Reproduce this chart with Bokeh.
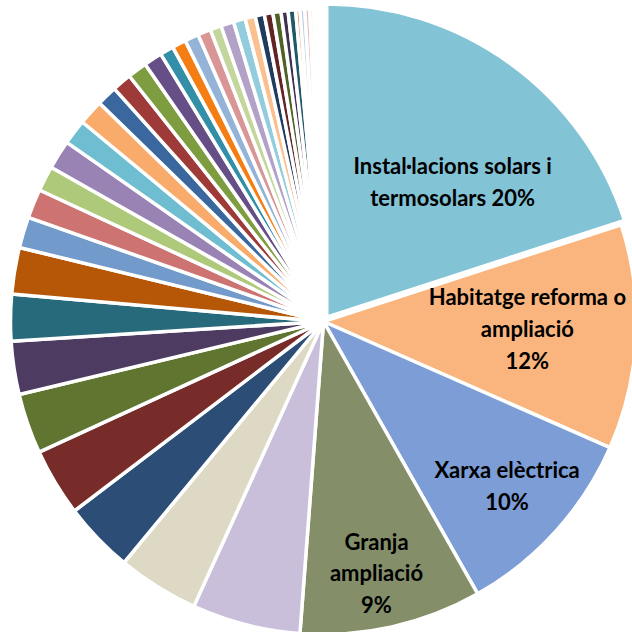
import math
from bokeh.plotting import figure
from bokeh.models import ColumnDataSource, Range1d
from bokeh.core.properties import value
from bokeh.embed import file_html
from bokeh.resources import INLINE

# ---- data (percent shares, clockwise from 12 o'clock) ----
shares = [20.0, 11.6, 10.2, 9.4, 5.6, 4.2, 3.65, 3.5, 3.1, 2.75, 2.4, 2.4,
          1.6, 1.5, 1.3, 1.5, 1.3, 1.3, 1.05, 1.0, 1.0, 0.95, 0.7, 0.72,
          0.72, 0.67, 0.58, 0.67, 0.61, 0.53, 0.47, 0.44, 0.42, 0.36, 0.39,
          0.22, 0.25, 0.25, 0.2, 0.15, 0.12, 0.1, 0.08, 0.05]

colors = ["#82C3D6", "#F9B57D", "#7C9DD5", "#848F6A", "#C9BFDB", "#DDD9C4",
          "#2C4D75", "#772C2A", "#5F7530", "#4D3B62", "#276A7C", "#B65708",
          "#729ACA", "#CD7371", "#AFC97A", "#9983B5", "#6FBDD1", "#F9AB6B",
          "#3A679E", "#9E3B38", "#7E9C40", "#664F86", "#338FA7", "#F47E13",
          "#95B3D7", "#D99694", "#C3D69B", "#B3A2C7", "#93CDDD", "#FAC090",
          "#1F3B5E", "#632523", "#4F6228", "#3F3151", "#215968", "#C77936",
          "#B9CDE5", "#E6B9B8", "#D7E4BD", "#CCC1DA", "#B7DDE8", "#FCD5B5",
          "#8EB4E3", "#FFB3B3"]

label_texts = ["Instal·lacions solars i\ntermosolars 20%",
               "Habitatge reforma o\nampliació\n12%",
               "Xarxa elèctrica\n10%",
               "Granja\nampliació\n9%"]

# ---- layout ----
W = H = 632
cx, cy = 323.0, 311.0       # pie centre in frame pixels (y up)
R = 313.0
explode = [5.5] + [0.0] * (len(shares) - 1)
label_r = [185.0, 204.0, 246.0, 257.0]
label_da = [-6.9, 0.9, 0.4, -0.7]   # degrees

total = float(sum(shares))
starts, ends, xs, ys = [], [], [], []
cum = 0.0
for s, e in zip(shares, explode):
    a0 = math.pi / 2 - 2 * math.pi * cum / total
    cum += s
    a1 = math.pi / 2 - 2 * math.pi * cum / total
    mid = (a0 + a1) / 2
    starts.append(a0)
    ends.append(a1)
    xs.append(cx + e * math.cos(mid))
    ys.append(cy + e * math.sin(mid))

src = ColumnDataSource(dict(x=xs, y=ys, start=starts, end=ends, color=colors[:len(shares)]))

p = figure(width=W, height=H, output_backend="svg", toolbar_location=None,
           x_range=Range1d(0, W), y_range=Range1d(0, H), min_border=0)
p.axis.visible = False
p.grid.visible = False
p.outline_line_color = None
p.background_fill_color = "white"
p.border_fill_color = "white"

p.wedge(x="x", y="y", radius=R, start_angle="start", end_angle="end",
        direction="clock", fill_color="color", line_color="white",
        line_width=3.5, source=src)

lx, ly = [], []
for i, t in enumerate(label_texts):
    mid = (starts[i] + ends[i]) / 2 + math.radians(label_da[i])
    lx.append(xs[i] + label_r[i] * math.cos(mid))
    ly.append(ys[i] + label_r[i] * math.sin(mid))

p.text(x=lx, y=ly, text=label_texts, text_font=value("Lato"),
       text_font_style="bold", text_font_size="22px", text_color="black",
       text_align="center", text_baseline="middle", text_line_height=1.18)

open("out.html", "w").write(file_html(p, INLINE))
